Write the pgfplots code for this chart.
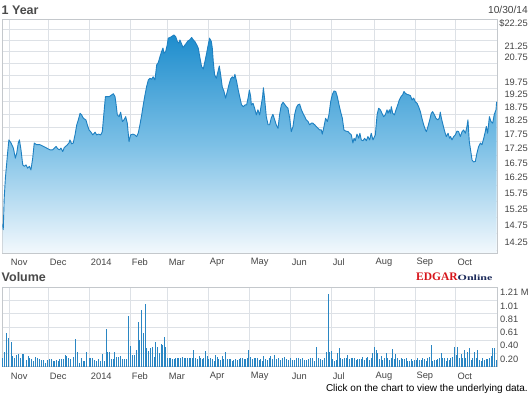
\documentclass[border=0pt]{standalone}
\usepackage{fontspec}
\setmainfont{Liberation Sans}
\newfontfamily\logofont{Liberation Serif}
\usepackage{pgfplots}
\usepackage{pgfplotstable}
\pgfplotsset{compat=1.18}
\definecolor{gridc}{HTML}{DDE1E6}
\definecolor{borderc}{HTML}{C4C8CC}
\definecolor{linec}{HTML}{1E80C1}
\definecolor{topc}{HTML}{1E8DCD}
\definecolor{midc}{HTML}{7CC0E6}
\definecolor{botc}{HTML}{F4F9FD}
\definecolor{volc}{HTML}{2A86C3}
\definecolor{txt}{HTML}{444444}
\definecolor{titlec}{HTML}{4A4A4A}
\definecolor{edgarred}{HTML}{D7141A}
\definecolor{navy}{HTML}{1C2A5A}

\pgfplotstableread{
x p
-3.4 14.77
-3.1 14.62
-2.6 15.59
-2.0 16.24
-1.4 16.68
-0.8 17.14
-0.2 17.55
0.9 17.44
2.1 17.26
3.1 16.91
3.8 17.08
4.6 17.44
5.2 17.55
6.0 17.20
6.9 16.68
7.7 16.63
8.6 16.68
9.4 16.57
10.3 16.63
11.1 16.51
12.0 16.91
12.8 17.44
14.0 17.38
15.7 17.38
17.5 17.32
19.2 17.26
20.9 17.20
22.2 17.20
23.1 17.26
24.0 17.32
24.8 17.24
25.7 17.20
26.5 17.26
27.4 17.14
28.2 17.28
29.4 17.35
30.6 17.44
31.1 17.55
32.0 17.41
32.8 17.44
33.7 17.73
34.6 18.10
35.4 18.28
36.3 18.53
37.1 18.47
38.0 18.34
39.3 18.28
40.0 18.10
40.9 17.91
41.7 17.85
42.8 17.73
44.0 17.83
44.8 17.73
45.8 17.76
46.9 17.73
47.7 17.85
48.6 18.59
49.3 19.17
50.3 19.17
51.3 19.17
52.5 19.24
53.4 19.28
54.2 19.17
54.7 18.91
55.4 18.47
56.3 18.40
57.1 18.57
58.0 18.22
58.8 18.28
59.7 18.40
60.5 18.16
61.4 17.49
62.2 17.73
63.4 17.76
64.4 17.73
65.3 17.67
66.1 17.79
67.0 18.10
67.9 18.47
68.7 18.85
69.6 19.24
70.4 19.56
71.3 19.83
72.1 19.90
73.0 19.86
73.8 19.96
74.7 19.83
75.6 20.45
76.4 20.54
77.3 20.80
78.1 21.01
78.8 21.16
79.3 20.94
80.2 21.01
81.0 21.30
81.5 21.59
82.4 21.62
83.2 21.66
84.4 21.73
85.3 21.66
86.2 21.44
87.0 21.37
87.5 21.51
88.2 21.37
89.1 21.18
89.9 21.27
90.8 21.37
91.6 21.47
92.5 21.51
93.5 21.62
94.4 21.51
95.2 21.44
96.1 21.30
96.9 21.16
97.8 20.73
98.6 20.38
99.5 20.28
100.3 20.58
101.2 20.94
102.0 21.30
102.7 21.59
103.6 21.44
104.1 21.16
104.6 20.58
105.3 20.03
106.2 19.90
107.0 20.17
107.7 20.40
108.4 20.03
109.2 19.56
110.1 19.37
110.9 19.11
111.8 19.37
112.6 19.63
113.5 19.87
114.4 19.96
115.2 19.90
115.7 20.06
116.6 19.76
117.4 19.43
118.3 19.11
119.1 18.85
120.0 18.78
120.9 18.85
121.7 18.85
122.6 19.17
123.1 19.43
123.8 19.17
124.1 18.85
125.0 18.91
125.8 18.72
126.7 18.47
127.5 18.66
128.4 18.47
129.2 18.85
129.9 19.17
130.3 19.52
130.9 19.11
131.8 18.40
132.7 18.10
133.5 18.10
134.4 18.37
135.2 18.49
136.1 18.28
136.9 18.10
137.8 17.97
138.6 18.47
139.5 18.85
140.4 18.95
141.2 18.87
142.1 18.78
142.9 18.72
143.8 18.34
144.6 17.85
145.5 18.04
146.3 18.47
147.2 18.75
148.0 18.85
148.9 18.88
149.8 18.66
150.6 18.53
151.5 18.40
152.3 18.28
153.2 18.22
154.0 18.10
154.9 18.16
155.7 18.16
156.6 18.10
157.4 18.04
158.3 17.97
159.2 17.91
160.0 17.91
160.5 17.76
161.4 18.04
162.2 18.34
163.1 18.22
163.9 18.47
164.8 18.97
165.6 19.24
166.5 19.39
167.4 19.37
168.2 19.17
169.1 18.85
169.9 18.59
170.8 18.34
171.6 17.91
172.5 17.87
173.7 17.85
174.5 17.79
175.4 17.73
176.2 17.44
176.8 17.61
177.4 17.52
178.3 17.76
179.2 17.61
179.8 17.79
180.5 17.55
181.4 17.52
182.2 17.61
183.1 17.52
183.9 17.67
184.8 17.55
185.6 17.79
186.5 17.55
187.7 17.73
188.6 18.47
189.4 18.72
190.3 18.66
191.1 18.53
192.0 18.40
192.8 18.47
193.7 18.66
194.2 18.53
194.9 18.66
195.4 18.53
195.9 18.78
196.6 18.53
197.5 18.47
198.3 18.66
199.2 18.85
200.0 19.04
200.9 19.17
201.7 19.24
202.4 19.37
203.1 19.30
203.9 19.26
204.8 19.24
205.7 19.21
206.5 19.04
207.4 19.11
208.2 18.97
209.1 18.91
209.9 18.78
210.8 18.59
211.6 18.34
212.5 18.10
213.4 17.91
213.9 17.85
214.7 18.04
215.6 18.28
216.4 18.53
217.1 18.59
218.0 18.47
218.8 18.34
219.7 18.28
220.5 18.34
221.0 18.57
221.6 18.34
222.4 18.10
223.3 17.85
224.1 17.67
225.0 17.79
225.8 17.61
226.3 17.67
227.0 17.55
227.9 17.67
228.7 17.73
229.6 17.87
230.4 17.85
231.3 17.67
232.2 17.85
233.0 17.91
233.9 17.79
234.7 18.04
235.2 18.28
235.9 17.49
236.8 17.08
237.3 16.85
238.1 16.78
239.0 16.80
239.8 17.08
240.7 17.32
241.6 17.44
242.4 17.38
243.3 17.61
244.1 17.85
244.6 18.04
245.3 17.79
246.2 18.40
247.0 18.22
247.9 18.16
248.7 18.49
249.6 18.66
249.9 18.97
}\pricetable

\pgfplotstableread{
x v
-3.4 0.13
-2.4 0.23
-1.2 0.52
-0.2 0.43
0.9 0.38
1.7 0.16
2.8 0.13
3.8 0.18
4.8 0.20
5.8 0.13
6.9 0.20
7.5 0.20
8.6 0.10
9.6 0.16
10.6 0.13
11.5 0.11
12.3 0.08
13.4 0.15
14.4 0.14
15.4 0.11
16.4 0.10
17.5 0.10
18.5 0.06
19.5 0.10
20.5 0.11
21.6 0.11
22.6 0.08
23.4 0.08
24.3 0.10
25.1 0.09
26.0 0.11
26.9 0.11
27.7 0.11
28.6 0.18
29.4 0.16
30.6 0.13
31.6 0.11
32.8 0.15
33.9 0.42
34.9 0.23
35.9 0.05
36.9 0.13
38.0 0.08
38.8 0.08
39.8 0.22
40.9 0.14
41.7 0.14
42.8 0.13
43.8 0.10
44.8 0.09
45.8 0.11
46.9 0.09
47.9 0.19
48.7 0.08
49.6 0.57
50.4 0.23
51.5 0.23
52.5 0.11
53.4 0.11
54.2 0.22
55.1 0.15
55.9 0.15
56.9 0.16
57.9 0.12
59.0 0.12
60.0 0.11
61.0 0.77
62.1 0.31
63.1 0.18
64.1 0.18
65.1 0.26
66.2 0.68
67.0 0.41
67.9 0.86
68.7 0.51
69.8 0.95
70.6 0.28
71.6 0.24
72.5 0.29
73.5 0.30
74.4 0.15
75.2 0.37
76.1 0.30
76.9 0.21
77.8 0.35
78.7 0.33
79.5 0.45
80.2 0.30
81.0 0.13
81.9 0.13
82.8 0.13
83.6 0.12
84.5 0.11
85.3 0.13
86.2 0.13
87.0 0.14
87.9 0.14
88.7 0.15
89.6 0.14
90.4 0.14
91.3 0.14
92.2 0.14
93.0 0.14
93.9 0.14
94.7 0.26
95.6 0.14
96.4 0.11
97.3 0.17
98.1 0.14
99.0 0.12
99.8 0.14
100.7 0.24
101.6 0.16
102.4 0.11
103.3 0.14
104.1 0.12
105.0 0.09
105.8 0.18
106.7 0.15
107.5 0.11
108.4 0.10
109.2 0.16
110.1 0.12
110.9 0.23
111.8 0.12
112.7 0.12
113.5 0.11
114.4 0.09
115.2 0.10
116.1 0.11
116.9 0.10
117.8 0.12
118.6 0.14
119.5 0.13
120.4 0.12
121.2 0.12
122.1 0.14
122.9 0.26
123.8 0.15
124.6 0.11
125.5 0.13
126.3 0.13
127.2 0.14
128.1 0.10
128.9 0.11
129.8 0.09
130.6 0.16
131.5 0.11
132.3 0.10
133.2 0.13
134.1 0.16
135.1 0.11
136.1 0.18
137.1 0.11
138.2 0.14
139.2 0.10
140.2 0.13
141.2 0.15
142.3 0.11
143.3 0.10
144.3 0.13
145.4 0.10
146.4 0.10
147.4 0.13
148.4 0.14
149.5 0.11
150.5 0.14
151.5 0.10
152.5 0.10
153.6 0.12
154.6 0.14
155.6 0.14
156.6 0.08
157.7 0.30
158.7 0.13
159.7 0.12
160.7 0.10
161.8 0.14
162.8 0.23
163.5 1.11
164.2 0.23
165.0 0.24
165.9 0.11
166.7 0.08
167.6 0.10
168.4 0.21
169.3 0.28
170.1 0.13
171.0 0.12
171.8 0.14
172.7 0.14
173.6 0.18
174.4 0.11
175.3 0.14
176.1 0.14
177.0 0.14
177.8 0.10
178.7 0.11
179.5 0.12
180.4 0.12
181.2 0.15
182.1 0.10
183.0 0.14
183.8 0.15
184.7 0.10
185.5 0.14
186.4 0.21
187.2 0.30
188.1 0.25
188.9 0.21
189.8 0.11
190.7 0.16
191.5 0.10
192.4 0.14
193.2 0.21
194.1 0.14
194.9 0.10
195.8 0.14
196.6 0.27
197.5 0.12
198.3 0.19
199.2 0.14
200.1 0.10
200.9 0.14
201.8 0.11
202.6 0.11
203.5 0.14
204.3 0.08
205.2 0.08
206.0 0.11
206.9 0.09
207.7 0.10
208.6 0.10
209.5 0.13
210.3 0.10
211.2 0.10
212.0 0.14
212.9 0.11
213.7 0.09
214.6 0.13
215.4 0.15
216.3 0.33
217.1 0.09
218.0 0.10
218.9 0.10
219.7 0.11
220.6 0.13
221.4 0.21
222.3 0.13
223.1 0.14
224.0 0.08
224.8 0.13
225.7 0.10
226.5 0.14
227.4 0.15
228.3 0.30
229.1 0.18
230.0 0.30
230.8 0.13
231.7 0.20
232.5 0.14
233.4 0.26
234.2 0.14
235.1 0.23
235.9 0.28
236.8 0.10
237.7 0.14
238.5 0.23
239.4 0.14
240.2 0.25
241.1 0.10
241.9 0.08
242.8 0.14
243.6 0.10
244.5 0.12
245.4 0.11
246.2 0.14
247.1 0.16
247.9 0.29
248.8 0.28
249.6 0.10
}\voltable

\pgfplotsset{
  edgar/.style={
    scale only axis, width=495pt,
    xmin=-3.74, xmax=250.1,
    axis line style={draw=borderc, line width=0.8pt},
    xtick={0,20,41,62,81,102,123,144,165,187,208,229},
    xticklabels={Nov,Dec,2014,Feb,Mar,Apr,May,Jun,Jul,Aug,Sep,Oct},
    xmajorgrids,
    major tick length=0pt, minor tick length=0pt,
    grid style={draw=gridc, line width=0.8pt},
    minor grid style={draw=gridc, line width=0.8pt},
    yticklabel pos=right,
    ticklabel style={font=\fontsize{9.3}{10}\selectfont, text=txt, inner sep=0pt},
    xticklabel style={anchor=west, xshift=1.5pt, yshift=-9.3pt},
    every axis plot/.append style={mark=none},
  }
}

\begin{document}
\begin{tikzpicture}[x=1pt,y=1pt]
\useasboundingbox (0,0) rectangle (530,-395);
\fill[white] (0,0) rectangle (530,-395);

\begin{axis}[edgar,
  at={(2pt,-19pt)}, anchor=north west, height=234pt,
  ymode=log, ymin=13.94, ymax=22.45,
  ytick={22.25,21.25,20.75,19.75,19.25,18.75,18.25,17.75,17.25,16.75,16.25,15.75,15.25,14.75,14.25},
  yticklabels={\$22.25,21.25,20.75,19.75,19.25,18.75,18.25,17.75,17.25,16.75,16.25,15.75,15.25,14.75,14.25},
  minor ytick={14,14.5,15,15.5,16,16.5,17,17.5,18,18.5,19,19.5,20,20.5,21,21.5,22},
  yminorgrids, ymajorgrids=false,
  yticklabel style={anchor=east, xshift=31pt},
]
\addplot[draw=none, top color=topc, bottom color=botc, middle color=midc]
  table[x=x,y=p]{\pricetable} |- (axis cs:-3.4,13.9) -- cycle;
\addplot[linec, line width=0.9pt, line join=round] table[x=x,y=p]{\pricetable};
\end{axis}

\begin{axis}[edgar,
  at={(2pt,-287.3pt)}, anchor=north west, height=79.4pt,
  ymin=0, ymax=1.21,
  ytick={0.2017,0.4033,0.605,0.8067,1.0083,1.21},
  yticklabels={0.20,0.40,0.61,0.81,1.01,1.21 M},
  ymajorgrids,
  yticklabel style={anchor=west, xshift=3pt, yshift=-5.4pt},
]
\addplot[ycomb, volc, line width=1pt] table[x=x,y=v]{\voltable};
\end{axis}

\node[anchor=west, inner sep=0pt, text=titlec, font=\fontsize{12.5}{14}\selectfont\bfseries] at (1.5,-10) {1 Year};
\node[anchor=east, inner sep=0pt, text=txt, font=\fontsize{10.2}{12}\selectfont] at (528,-10) {10/30/14};
\node[anchor=west, inner sep=0pt, text=titlec, font=\fontsize{12.5}{14}\selectfont\bfseries] at (1.5,-277.5) {Volume};
\node[anchor=base west, inner sep=0pt] at (416,-281) {{\logofont\bfseries\color{edgarred}\fontsize{11.5}{12}\selectfont EDGAR}{\logofont\bfseries\color{navy}\scalebox{1.5}[1]{\fontsize{8}{9}\selectfont Online}}};
\node[anchor=east, inner sep=0pt, text=black, font=\fontsize{10}{12}\selectfont] at (528,-388.5) {Click on the chart to view the underlying data.};
\end{tikzpicture}
\end{document}
